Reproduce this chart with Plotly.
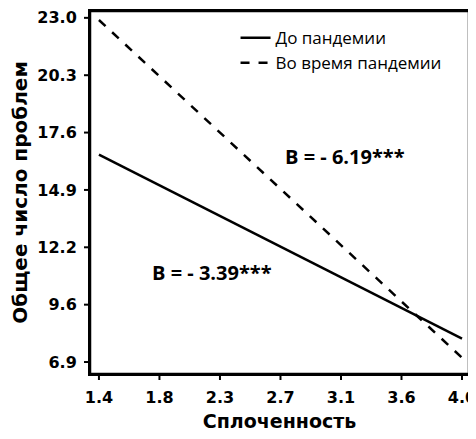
import numpy as np
import plotly.graph_objects as go

# data
cohesion = [1.4, 4.0]
before_pandemic = [16.6, 8.0]
during_pandemic = [22.9, 7.1]

x_tick_labels = ["1.4", "1.8", "2.3", "2.7", "3.1", "3.6", "4.0"]
y_tick_labels = ["6.9", "9.6", "12.2", "14.9", "17.6", "20.3", "23.0"]

# ticks are evenly spaced; labels are rounded values
x_ticks = [float(v) for v in np.linspace(1.4, 4.0, len(x_tick_labels))]
y_ticks = [float(v) for v in np.linspace(6.9, 23.0, len(y_tick_labels))]

X_RANGE = [1.336, 4.05]
Y_RANGE = [6.34, 23.32]

AXIS_FONT = dict(family="DejaVu Sans, sans-serif", color="black", weight="bold")
TEXT_FONT = "Open Sans, sans-serif"

fig = go.Figure()
fig.add_trace(go.Scatter(
    x=cohesion, y=before_pandemic, mode="lines", name="До пандемии",
    line=dict(color="black", width=2.5),
))
fig.add_trace(go.Scatter(
    x=cohesion, y=during_pandemic, mode="lines", name="Во время пандемии",
    line=dict(color="black", width=2.5, dash="dash"),
))

fig.add_annotation(x=3.16, y=16.5, text="<b>B = - 6.19***</b>", showarrow=False,
                   font=dict(family=TEXT_FONT, size=20, color="black"))
fig.add_annotation(x=2.21, y=11.1, text="<b>B = - 3.39***</b>", showarrow=False,
                   font=dict(family=TEXT_FONT, size=20, color="black"))

# frame around the plot area
fig.add_shape(type="rect", xref="paper", yref="paper", x0=0, x1=1, y0=0, y1=1,
              line=dict(color="black", width=2.5), layer="above")

# outside tick marks
for xv in x_ticks:
    fig.add_shape(type="line", xref="x", yref="paper", ysizemode="pixel", yanchor=0,
                  x0=xv, x1=xv, y0=0, y1=-6, line=dict(color="black", width=2))
for yv in y_ticks:
    fig.add_shape(type="line", xref="paper", yref="y", xsizemode="pixel", xanchor=0,
                  x0=0, x1=-6, y0=yv, y1=yv, line=dict(color="black", width=2))

fig.update_layout(
    width=468, height=431,
    paper_bgcolor="white", plot_bgcolor="white",
    margin=dict(l=82, r=6, t=0, b=65),
    showlegend=True,
    legend=dict(x=0.384, y=0.975, xanchor="left", yanchor="top",
                bgcolor="rgba(0,0,0,0)", font=dict(family=TEXT_FONT, size=17, color="black")),
    xaxis=dict(
        range=X_RANGE, tickmode="array", tickvals=x_ticks, ticktext=x_tick_labels,
        showgrid=False, zeroline=False, showline=True, linecolor="black", linewidth=2,
        mirror=True, ticks="",
        ticklabelstandoff=8, ticklabeloverflow="allow",
        tickfont=dict(size=16, **AXIS_FONT),
        title=dict(text="Сплоченность", font=dict(size=19, **AXIS_FONT), standoff=8),
    ),
    yaxis=dict(
        range=Y_RANGE, tickmode="array", tickvals=y_ticks, ticktext=y_tick_labels,
        showgrid=False, zeroline=False, showline=True, linecolor="black", linewidth=2,
        mirror=True, ticks="",
        ticklabelstandoff=8, ticklabeloverflow="allow",
        tickfont=dict(size=16, **AXIS_FONT),
        title=dict(text="Общее число проблем", font=dict(size=20, **AXIS_FONT), standoff=9),
    ),
)

fig.write_html("out.html")
